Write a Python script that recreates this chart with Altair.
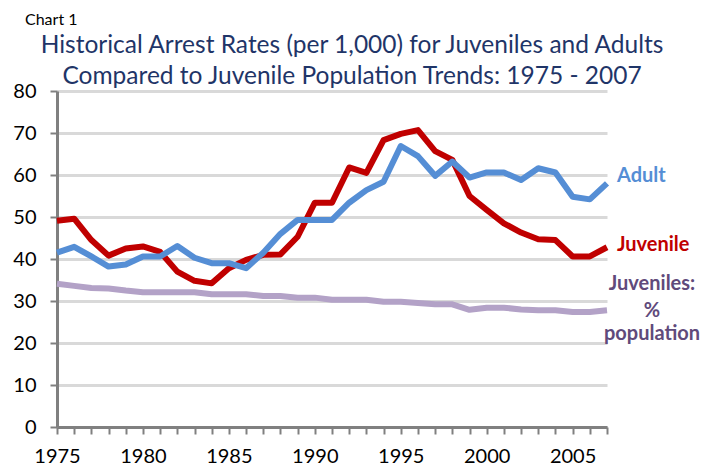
import altair as alt
import pandas as pd

years = list(range(1975, 2008))
juvenile = [49.1, 49.6, 44.5, 40.8, 42.5, 43.0, 41.7, 37.0, 34.8, 34.2, 37.8, 39.8, 41.0, 41.1, 45.3, 53.4,
            53.4, 61.8, 60.5, 68.3, 69.8, 70.7, 65.7, 63.6, 55.0, 51.7, 48.5, 46.3, 44.7, 44.5, 40.6, 40.6, 42.8]
adult = [41.5, 42.9, 40.6, 38.2, 38.7, 40.6, 40.6, 43.1, 40.3, 39.0, 39.0, 37.8, 41.5, 46.0, 49.3, 49.3,
         49.3, 53.4, 56.4, 58.4, 66.9, 64.5, 59.8, 63.2, 59.4, 60.6, 60.6, 58.8, 61.6, 60.6, 54.8, 54.2, 58.0]
juv_pct = [34.1, 33.6, 33.1, 33.0, 32.5, 32.1, 32.1, 32.1, 32.1, 31.6, 31.6, 31.6, 31.2, 31.2, 30.8, 30.8,
           30.3, 30.3, 30.3, 29.8, 29.8, 29.5, 29.2, 29.2, 27.9, 28.4, 28.4, 28.0, 27.8, 27.8, 27.4, 27.4, 27.8]

series_names = ["Juveniles: % population", "Juvenile", "Adult"]
series_colors = ["#B3A2C7", "#C00000", "#558ED5"]

df = pd.DataFrame({
    "year": years * 3,
    "value": juv_pct + juvenile + adult,
    "series": [series_names[0]] * 33 + [series_names[1]] * 33 + [series_names[2]] * 33,
})

W, H = 550, 336
FONT = "Lato"

x_enc = alt.X("year:Q", scale=alt.Scale(domain=[1975, 2007], nice=False, zero=False),
              axis=alt.Axis(values=years, labelExpr="datum.value % 5 == 0 ? datum.label : ''",
                            format="d", grid=False, domainColor="#808080", domainWidth=3,
                            tickColor="#808080", tickWidth=2, tickSize=7, labelPadding=12,
                            labelFontSize=20, labelColor="#000000", labelFont=FONT, title=None,
                            labelFlush=False))
y_enc = alt.Y("value:Q", scale=alt.Scale(domain=[0, 80], nice=False),
              axis=alt.Axis(values=[0, 10, 20, 30, 40, 50, 60, 70, 80], grid=True, gridColor="#D9D9D9",
                            gridWidth=3, domainColor="#808080", domainWidth=3, tickColor="#808080",
                            tickWidth=2, tickSize=7, labelPadding=14, labelFontSize=20,
                            labelColor="#000000", labelFont=FONT, title=None))

layers = []
for name, col in zip(series_names, series_colors):
    layers.append(
        alt.Chart(df).transform_filter(alt.datum.series == name).mark_line(
            color=col, strokeWidth=6, strokeJoin="round", clip=False
        ).encode(x=x_enc, y=y_enc)
    )

def txt(text, x, y, size, color, bold=False, align="left"):
    return alt.Chart(pd.DataFrame({"t": [text]})).mark_text(
        align=align, baseline="alphabetic", fontSize=size, color=color, font=FONT,
        fontWeight="bold" if bold else "normal"
    ).encode(text="t:N", x=alt.value(x), y=alt.value(y))

TITLE_C = "#1F3568"
LAB_P = "#604A7B"
annotations = [
    txt("Chart 1", -32, -66, 16, "#000000"),
    txt("Historical Arrest Rates (per 1,000) for Juveniles and Adults", 295, -38, 24.5, TITLE_C, align="center"),
    txt("Compared to Juvenile Population Trends:  1975 - 2007", 295, -7, 24.5, TITLE_C, align="center"),
    txt("Adult", 560, 91, 20, "#558ED5", bold=True),
    txt("Juvenile", 560, 160, 20, "#C00000", bold=True),
    txt("Juveniles:", 595, 199, 20, LAB_P, bold=True, align="center"),
    txt("%", 595, 226, 20, LAB_P, bold=True, align="center"),
    txt("population", 595, 249, 20, LAB_P, bold=True, align="center"),
]

chart = alt.layer(*layers, *annotations).properties(
    width=W, height=H,
    autosize=alt.AutoSizeParams(type="none"),
    padding={"left": 49, "top": 83, "right": 101, "bottom": 43},
).configure_view(stroke=None)

chart.save("out.html", embed_options={"renderer": "svg", "actions": False})
